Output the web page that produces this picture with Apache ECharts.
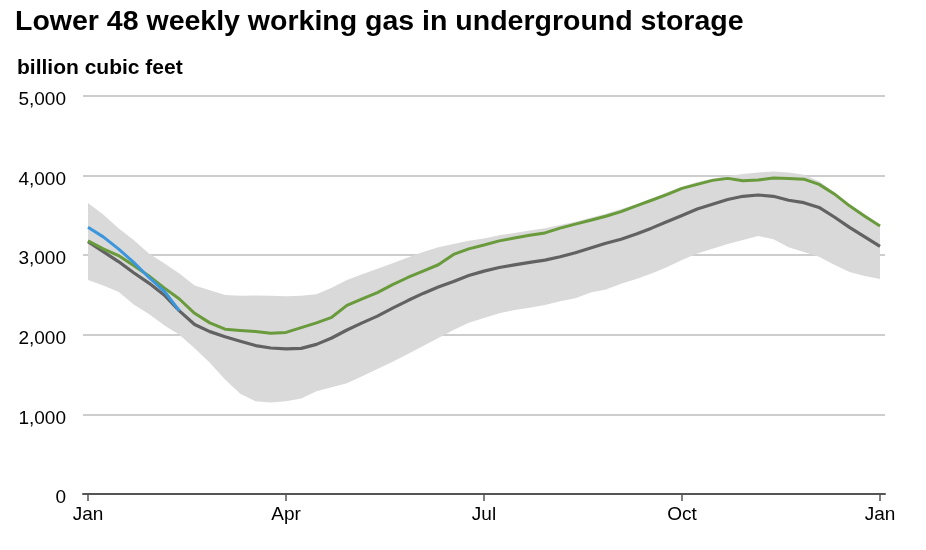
<!DOCTYPE html>
<html>
<head>
<meta charset="utf-8">
<script src="https://cdn.jsdelivr.net/npm/echarts@6/dist/echarts.min.js"></script>
<style>
  html, body { margin: 0; padding: 0; background: #fff; }
  #chart { width: 926px; height: 550px; }
</style>
</head>
<body>
<div id="chart"></div>
<script>
// weekly points, x = day of year (week * 7)
var monthTicks = [0, 91, 182, 273, 364];
var monthLabels = ['Jan', 'Apr', 'Jul', 'Oct', 'Jan'];

var rangeLow = [2688, 2620, 2540, 2380, 2260, 2120, 2000, 1830, 1650, 1440, 1260, 1165, 1150, 1165,
  1200, 1290, 1340, 1390, 1480, 1570, 1660, 1760, 1860, 1960, 2060, 2150, 2210, 2270, 2310, 2340,
  2375, 2420, 2460, 2530, 2570, 2640, 2700, 2770, 2850, 2940, 3020, 3080, 3140, 3190, 3240, 3200,
  3100, 3040, 2980, 2880, 2790, 2740, 2700];
var rangeHigh = [3655, 3510, 3340, 3190, 3020, 2900, 2770, 2620, 2560, 2500, 2490, 2495, 2490, 2485,
  2490, 2510, 2590, 2690, 2760, 2830, 2900, 2970, 3040, 3100, 3140, 3180, 3210, 3250, 3280, 3310,
  3340, 3380, 3420, 3470, 3520, 3580, 3640, 3710, 3790, 3860, 3920, 3960, 3995, 4020, 4040, 4050,
  4040, 4010, 3930, 3790, 3640, 3510, 3380];
var fiveYearAvg = [3170, 3045, 2920, 2780, 2650, 2500, 2300, 2130, 2040, 1975, 1920, 1865, 1834, 1822,
  1830, 1880, 1960, 2060, 2150, 2235, 2335, 2430, 2520, 2600, 2670, 2745, 2800, 2845, 2878, 2910,
  2938, 2980, 3030, 3090, 3150, 3200, 3265, 3340, 3420, 3500, 3580, 3640, 3700, 3740, 3756, 3740,
  3690, 3660, 3600, 3480, 3350, 3230, 3110];
var lastYear = [3180, 3080, 2995, 2870, 2740, 2590, 2450, 2270, 2150, 2070, 2055, 2040, 2020, 2030,
  2090, 2150, 2220, 2370, 2450, 2530, 2630, 2720, 2800, 2880, 3010, 3080, 3128, 3180, 3215, 3250,
  3280, 3340, 3390, 3440, 3490, 3547, 3620, 3690, 3760, 3840, 3890, 3940, 3965, 3936, 3945, 3970,
  3965, 3955, 3890, 3770, 3620, 3490, 3367];
var thisYear = [3350, 3230, 3080, 2910, 2720, 2550, 2300];

function pairs(arr) {
  return arr.map(function (v, i) { return [i * 7, v]; });
}

// five-year range drawn as one polygon through the axis scales
function renderBand(params, api) {
  if (params.dataIndex !== 0) return;
  var pts = [];
  for (var i = 0; i < rangeHigh.length; i++) pts.push(api.coord([i * 7, rangeHigh[i]]));
  for (var j = rangeLow.length - 1; j >= 0; j--) pts.push(api.coord([j * 7, rangeLow[j]]));
  return { type: 'polygon', shape: { points: pts }, style: { fill: '#d9d9d9' } };
}

var chart = echarts.init(document.getElementById('chart'));
chart.setOption({
  animation: false,
  textStyle: { fontFamily: 'Liberation Sans, Arial, sans-serif' },
  title: [
    { text: 'Lower 48 weekly working gas in underground storage', left: 10, top: 3,
      textStyle: { fontSize: 28.5, fontWeight: 'bold', color: '#000' } },
    { text: 'billion cubic feet', left: 12, top: 53,
      textStyle: { fontSize: 21, fontWeight: 'bold', color: '#000' } }
  ],
  grid: { left: 83, right: 41, top: 96, bottom: 56 },
  xAxis: {
    type: 'value', min: -2.3, max: 366.3,
    splitLine: { show: false },
    axisLine: { lineStyle: { color: '#555', width: 2 } },
    axisTick: { show: true, customValues: monthTicks, length: 7, lineStyle: { color: '#555', width: 1.5 } },
    axisLabel: {
      customValues: monthTicks, color: '#000', fontSize: 19, margin: 11,
      formatter: function (v) { return monthLabels[monthTicks.indexOf(v)]; }
    }
  },
  yAxis: {
    type: 'value', min: 0, max: 5000, interval: 1000,
    axisLine: { show: false }, axisTick: { show: false },
    splitLine: { lineStyle: { color: '#bdbdbd', width: 1.5 } },
    axisLabel: {
      color: '#000', fontSize: 19, margin: 17,
      formatter: function (v) { return '{n|' + v.toLocaleString('en-US') + '}'; },
      rich: { n: { fontSize: 19, color: '#000', padding: [8, 0, 0, 0] } }
    }
  },
  series: [
    { type: 'custom', renderItem: renderBand, data: pairs(rangeLow), silent: true, z: 1 },
    { type: 'line', data: pairs(fiveYearAvg), symbol: 'none', z: 3, lineStyle: { color: '#626262', width: 3.2 } },
    { type: 'line', data: pairs(lastYear), symbol: 'none', z: 4, lineStyle: { color: '#699a3b', width: 3 } },
    { type: 'line', data: pairs(thisYear), symbol: 'none', z: 5, lineStyle: { color: '#3b96dc', width: 3 } }
  ]
});
</script>
</body>
</html>
